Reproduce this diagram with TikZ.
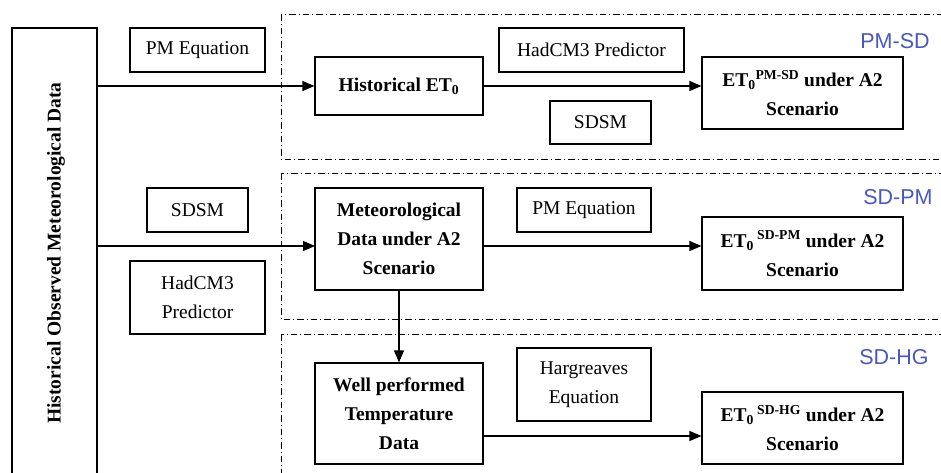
\documentclass[tikz,border=0pt]{standalone}
\usepackage{fontspec}
\setmainfont{Liberation Serif}
\newfontfamily\labfont{Liberation Sans}
\usetikzlibrary{arrows.meta}
\definecolor{tagblue}{RGB}{72,88,192}
\begin{document}
\begin{tikzpicture}[x=1pt,y=-1pt,
  box/.style={draw, line width=1.2pt, inner sep=0pt, align=center, font=\fontsize{19.5}{29}\selectfont},
  bbox/.style={box, font=\fontsize{19.5}{29}\selectfont\bfseries},
  grp/.style={draw, line width=1pt, dash pattern=on 6.5pt off 3pt on 1pt off 3pt},
  tag/.style={font=\labfont\fontsize{21.5}{24}\selectfont, text=tagblue, inner sep=0pt},
  arr/.style={line width=1.2pt, -{Triangle[length=12pt,width=10pt]}}]
\useasboundingbox (0,0) rectangle (941,472);
\clip (0,0) rectangle (941,472);
% groups
\path[grp] (281,14) rectangle (960,159);
\path[grp] (281,173) rectangle (960,319);
\path[grp] (281,334) rectangle (960,500);
\node[tag] (t1) at (895,41) {PM-SD};
\node[tag] (t2) at (898,197) {SD-PM};
\node[tag] (t3) at (894,357) {SD-HG};
% left column
\node[draw, line width=1.2pt, minimum width=85, minimum height=462, inner sep=0pt] (obs) at (54.5,259) {};
\node[rotate=90, inner sep=0pt, font=\fontsize{19.5}{29}\selectfont\bfseries] (obslab) at (56,253) {Historical Observed Meteorological Data};
\node[box, minimum width=135, minimum height=44] (pmeq1) at (197.5,50) {PM Equation};
\node[box, minimum width=101, minimum height=44] (sdsm1) at (197.5,210) {SDSM};
\node[box, minimum width=135, minimum height=73] (had1) at (197.5,297.5) {HadCM3\\Predictor};
% row 1
\node[bbox, minimum width=168, minimum height=58] (histET) at (399,86) {Historical ET\textsubscript{0}};
\node[box, minimum width=185, minimum height=44] (had2) at (591.5,50) {HadCM3 Predictor};
\node[box, minimum width=101, minimum height=43] (sdsm2) at (600.5,122.5) {SDSM};
\node[bbox, minimum width=201, minimum height=72] (et1) at (802.5,93) {ET\textsubscript{0}\textsuperscript{PM-SD} under A2\\Scenario};
% row 2
\node[bbox, minimum width=168, minimum height=102] (met) at (399,239) {Meteorological\\Data under A2\\Scenario};
\node[box, minimum width=134, minimum height=44] (pmeq2) at (584,210) {PM Equation};
\node[bbox, minimum width=201, minimum height=73] (et2) at (802.5,253.5) {ET\textsubscript{0}\,\textsuperscript{SD-PM} under A2\\Scenario};
% row 3
\node[bbox, minimum width=168, minimum height=101] (well) at (399,413.5) {Well performed\\Temperature\\Data};
\node[box, minimum width=134, minimum height=73] (harg) at (584,384.5) {Hargreaves\\Equation};
\node[bbox, minimum width=201, minimum height=72] (et3) at (802.5,428) {ET\textsubscript{0}\,\textsuperscript{SD-HG} under A2\\Scenario};
% connectors
\coordinate (r2) at (315,246);
\coordinate (r3) at (483,436);
\draw[arr] (obs.east |- histET.west) -- (histET.west);
\draw[arr] (histET.east) -- (histET.east -| et1.west);
\draw[arr] (obs.east |- r2) -- (r2);
\draw[arr] (r2 -| met.east) -- (r2 -| et2.west);
\draw[arr] (met.south) -- (well.north);
\draw[arr] (well.east |- r3) -- (r3 -| et3.west);
\end{tikzpicture}
\end{document}
